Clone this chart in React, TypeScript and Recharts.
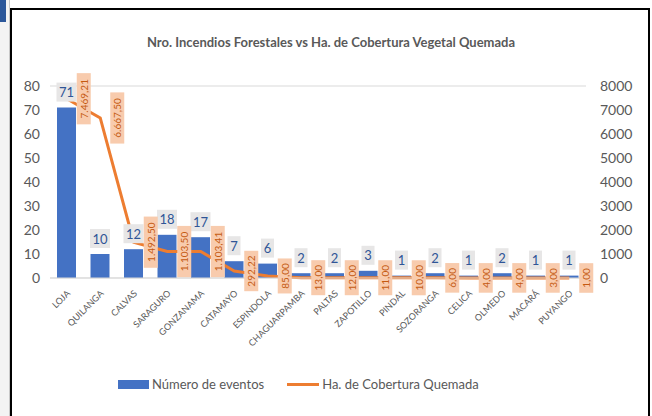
import {
  ComposedChart,
  Bar,
  Line,
  XAxis,
  YAxis,
  CartesianGrid,
  LabelList,
} from 'recharts'

const municipios = [
  'LOJA', 'QUILANGA', 'CALVAS', 'SARAGURO', 'GONZANAMA', 'CATAMAYO', 'ESPINDOLA', 'CHAGUARPAMBA',
  'PALTAS', 'ZAPOTILLO', 'PINDAL', 'SOZORANGA', 'CELICA', 'OLMEDO', 'MACARÁ', 'PUYANGO',
]
const numeroEventos = [71, 10, 12, 18, 17, 7, 6, 2, 2, 3, 1, 2, 1, 2, 1, 1]
const hectareas = [7469.21, 6667.5, 1492.5, 1103.5, 1103.41, 292.22, 85, 13, 12, 11, 10, 6, 4, 4, 3, 1]
const leftTicks = [0, 10, 20, 30, 40, 50, 60, 70, 80]
const rightTicks = [0, 1000, 2000, 3000, 4000, 5000, 6000, 7000, 8000]

const data = municipios.map((m, i) => ({
  municipio: m,
  eventos: numeroEventos[i],
  ha: hectareas[i],
}))

const FONT = 'Lato, "Open Sans", sans-serif'
const GRAY = '#595959'
const BLUE = '#4472c4'
const ORANGE = '#ed7d31'

// 7469.21 -> "7.469,21"
function formatEs(v: number) {
  const [ent, dec] = v.toFixed(2).split('.')
  return ent.replace(/\B(?=(\d{3})+(?!\d))/g, '.') + ',' + dec
}

function CatTick({ x, y, payload }: any) {
  const tx = x + 4
  const ty = y + 8
  return (
    <text
      x={tx}
      y={ty}
      transform={`rotate(-45, ${tx}, ${ty})`}
      textAnchor="end"
      fontSize={9}
      fill={GRAY}
      fontFamily={FONT}
    >
      {payload.value}
    </text>
  )
}

function BarLabel({ x, y, width, value }: any) {
  const txt = String(value)
  const w = txt.length * 7 + 6
  const h = 19
  const cx = x + width / 2
  const top = y - 6 - h
  return (
    <g>
      <rect x={cx - w / 2} y={top} width={w} height={h} fill="#e7e6e6" />
      <text x={cx} y={top + h / 2 + 5} textAnchor="middle" fontSize={13} fill="#2f5597" fontFamily={FONT}>
        {txt}
      </text>
    </g>
  )
}

function LineLabel({ x, y, value }: any) {
  const txt = formatEs(value)
  const h = txt.length * 5.4 + 8
  const w = 14
  const left = x + 10
  const cx = left + w / 2
  return (
    <g>
      <rect x={left} y={y - h / 2} width={w} height={h} fill="#f8cbad" />
      <text
        x={cx}
        y={y}
        transform={`rotate(-90, ${cx}, ${y})`}
        textAnchor="middle"
        dominantBaseline="central"
        fontSize={10}
        fill="#c55a11"
        fontFamily={FONT}
      >
        {txt}
      </text>
    </g>
  )
}

export default function App() {
  return (
    <div style={{ position: 'fixed', left: 0, top: 0, width: 652, height: 416, background: '#fff', overflow: 'hidden' }}>
      <div style={{ position: 'absolute', left: 0, top: 0, width: 9, height: 416, background: '#f3f3f3', borderRight: '1px solid #c8c8c8' }} />
      <div style={{ position: 'absolute', left: 0, top: 0, width: 6, height: 22, background: '#2b579a' }} />
      <div style={{ position: 'absolute', left: 10, top: 8, width: 640, height: 420, border: '2px solid #000', boxSizing: 'border-box' }} />
      <div
        style={{
          position: 'absolute', left: 12, width: 638, top: 34, textAlign: 'center',
          fontFamily: FONT, fontWeight: 700, fontSize: 13, color: GRAY,
        }}
      >
        Nro. Incendios Forestales vs Ha. de Cobertura Vegetal Quemada
      </div>
      <div style={{ position: 'absolute', left: 0, top: 0 }}>
        <ComposedChart
          width={652}
          height={416}
          data={data}
          margin={{ top: 86, right: 10, bottom: 58, left: 10 }}
          barSize={19}
        >
          <CartesianGrid stroke="#d9d9d9" vertical={false} />
          <XAxis
            dataKey="municipio"
            interval={0}
            height={80}
            tick={<CatTick />}
            tickLine={false}
            axisLine={{ stroke: '#d9d9d9' }}
          />
          <YAxis
            yAxisId="left"
            domain={[0, 80]}
            ticks={leftTicks}
            width={40}
            tickSize={0}
            tickMargin={10}
            axisLine={false}
            tickLine={false}
            tick={{ fill: GRAY, fontSize: 14, fontFamily: FONT }}
          />
          <YAxis
            yAxisId="right"
            orientation="right"
            domain={[0, 8000]}
            ticks={rightTicks}
            width={56}
            tickSize={0}
            tickMargin={14}
            axisLine={false}
            tickLine={false}
            tick={{ fill: GRAY, fontSize: 14, fontFamily: FONT, textAnchor: 'start' }}
          />
          <Bar yAxisId="left" dataKey="eventos" fill={BLUE} isAnimationActive={false}>
            <LabelList dataKey="eventos" content={<BarLabel />} />
          </Bar>
          <Line
            yAxisId="right"
            dataKey="ha"
            stroke={ORANGE}
            strokeWidth={3}
            dot={false}
            isAnimationActive={false}
          >
            <LabelList dataKey="ha" content={<LineLabel />} />
          </Line>
        </ComposedChart>
      </div>
      <div
        style={{
          position: 'absolute', left: 118, top: 376, display: 'flex', alignItems: 'center',
          fontFamily: FONT, fontSize: 13, color: GRAY,
        }}
      >
        <span style={{ display: 'inline-block', width: 31, height: 9, background: BLUE, marginRight: 3 }} />
        <span>Número de eventos</span>
        <span style={{ display: 'inline-block', width: 32, height: 3, background: ORANGE, marginLeft: 23, marginRight: 3 }} />
        <span>Ha. de Cobertura Quemada</span>
      </div>
    </div>
  )
}
